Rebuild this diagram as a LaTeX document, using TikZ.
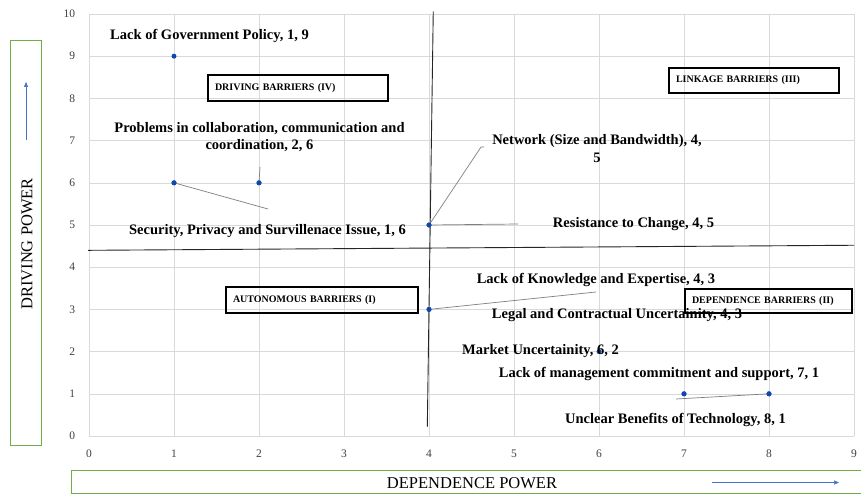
\documentclass[tikz,border=0pt]{standalone}
\usepackage{fontspec}
\setmainfont{Liberation Serif}
\usetikzlibrary{arrows.meta}
\definecolor{gridgray}{HTML}{D9D9D9}
\definecolor{dotblue}{HTML}{0F47AF}
\definecolor{arrowblue}{HTML}{4472C4}
\definecolor{framegreen}{HTML}{70AD47}
\definecolor{leader}{HTML}{7F7F7F}
\begin{document}
\begin{tikzpicture}[x=1bp,y=-1bp,
  lbl/.style={font=\fontsize{14.5bp}{17.5bp}\selectfont\bfseries, inner sep=0pt, align=center},
  qbox/.style={draw=black, line width=1.1bp, font=\fontsize{10bp}{12bp}\selectfont\bfseries,
    inner xsep=7bp, inner ysep=0pt, align=left},
  tick/.style={font=\fontsize{11.5bp}{13bp}\selectfont, text=black!75, inner sep=0pt},
  axlbl/.style={font=\fontsize{16.5bp}{19bp}\selectfont, inner sep=0pt},
  dot/.style={circle, fill=dotblue, inner sep=0pt, minimum size=5bp},
  leadline/.style={draw=leader, line width=0.7bp},
  quad/.style={draw=black!85, line width=0.9bp},
  greenframe/.style={draw=framegreen, line width=1bp},
  dirarrow/.style={draw=arrowblue, line width=0.6bp, -{Triangle[length=5bp,width=4bp]}}]
\useasboundingbox (0,0) rectangle (861,496);
\fill[white] (0,0) rectangle (861,496);

% grid and tick labels
\begin{scope}[shift={(89bp,-436bp)}, x=85bp, y=42.2bp]
  \foreach \i in {0,...,9} {
    \draw[gridgray, line width=0.6bp] (\i,0) -- (\i,10);
    \node[tick] at (\i,-0.43) {\i};
  }
  \foreach \j in {0,...,10} {
    \draw[gridgray, line width=0.6bp] (0,\j) -- (9,\j);
    \node[tick, anchor=east] at (-0.16,\j) {\j};
  }

  % quadrant dividers
  \coordinate (vtop) at (4.05,10.06);
  \coordinate (vbot) at (3.98,0.22);
  \coordinate (hleft) at (-0.01,4.4);
  \coordinate (hright) at (9,4.52);
  \draw[quad] (vtop) -- (vbot);
  \draw[quad] (hleft) -- (hright);

  % barriers
  \node[dot] (p19) at (1,9) {};
  \node[dot] (p16) at (1,6) {};
  \node[dot] (p26) at (2,6) {};
  \node[dot] (p45) at (4,5) {};
  \node[dot] (p43) at (4,3) {};
  \node[dot] (p62) at (6,2) {};
  \node[dot] (p71) at (7,1) {};
  \node[dot] (p81) at (8,1) {};
\end{scope}

% leader line ends
\coordinate (secEnd) at (268,209);
\coordinate (colEnd) at (260,167);
\coordinate (netKnee) at (481,147);
\coordinate (netEnd) at (484,147);
\coordinate (resEnd) at (518,224);
\coordinate (knoEnd) at (596,292);
\coordinate (uncEnd) at (676,399);

\draw[leadline] (p16.center) -- (secEnd);
\draw[leadline] (p26.center) -- (colEnd);
\draw[leadline] (p45.center) -- (netKnee) -- (netEnd);
\draw[leadline] (p45.center) -- (resEnd);
\draw[leadline] (p43.center) -- (knoEnd);
\draw[leadline] (p81.center) -- (uncEnd);
\foreach \p in {p16,p26,p45,p43,p71,p81} \node[dot] at (\p) {};

% quadrant boxes
\node[qbox, text width=166bp, minimum height=26bp] (q4) at (298,88) {DRIVING BARRIERS (IV)};
\node[qbox, text width=156bp, minimum height=25bp] (q3) at (754,80.5) {LINKAGE BARRIERS (III)};
\node[qbox, text width=178bp, minimum height=26bp] (q1) at (322,300) {AUTONOMOUS BARRIERS (I)};
\node[qbox, text width=153bp, minimum height=24bp] (q2) at (768.5,301) {DEPENDENCE BARRIERS (II)};

% barrier labels
\node[lbl] (lGov) at (209.5,36) {Lack of Government Policy, 1, 9};
\node[lbl] (lCol) at (259.5,137) {Problems in collaboration, communication and\\coordination, 2, 6};
\node[lbl] (lSec) at (267.5,231) {Security, Privacy and Survillenace Issue, 1, 6};
\node[lbl] (lNet) at (597,148.5) {Network (Size and Bandwidth), 4,\\5};
\node[lbl] (lRes) at (633.5,224) {Resistance to Change, 4, 5};
\node[lbl] (lKno) at (596,280) {Lack of Knowledge and Expertise, 4, 3};
\node[lbl] (lLeg) at (617,315) {Legal and Contractual Uncertainity, 4, 3};
\node[lbl] (lMkt) at (540.5,351) {Market Uncertainity, 6, 2};
\node[lbl] (lMgt) at (659,374) {Lack of management commitment and support, 7, 1};
\node[lbl] (lUnc) at (675.5,420) {Unclear Benefits of Technology, 8, 1};

% axis title frames
\draw[greenframe] (10,41) rectangle (41,445);
\node[axlbl, rotate=90] (yTitle) at (27,244) {DRIVING POWER};
\coordinate (yArrBot) at (26,140);
\coordinate (yArrTop) at (26,82);
\draw[dirarrow] (yArrBot) -- (yArrTop);

\draw[greenframe] (864,470.7) -- (71,470.7) -- (71,493.3) -- (864,493.3);
\node[axlbl] (xTitle) at (472,483) {DEPENDENCE POWER};
\coordinate (xArrL) at (712,482.5);
\coordinate (xArrR) at (839,482.5);
\draw[dirarrow] (xArrL) -- (xArrR);
\end{tikzpicture}
\end{document}
